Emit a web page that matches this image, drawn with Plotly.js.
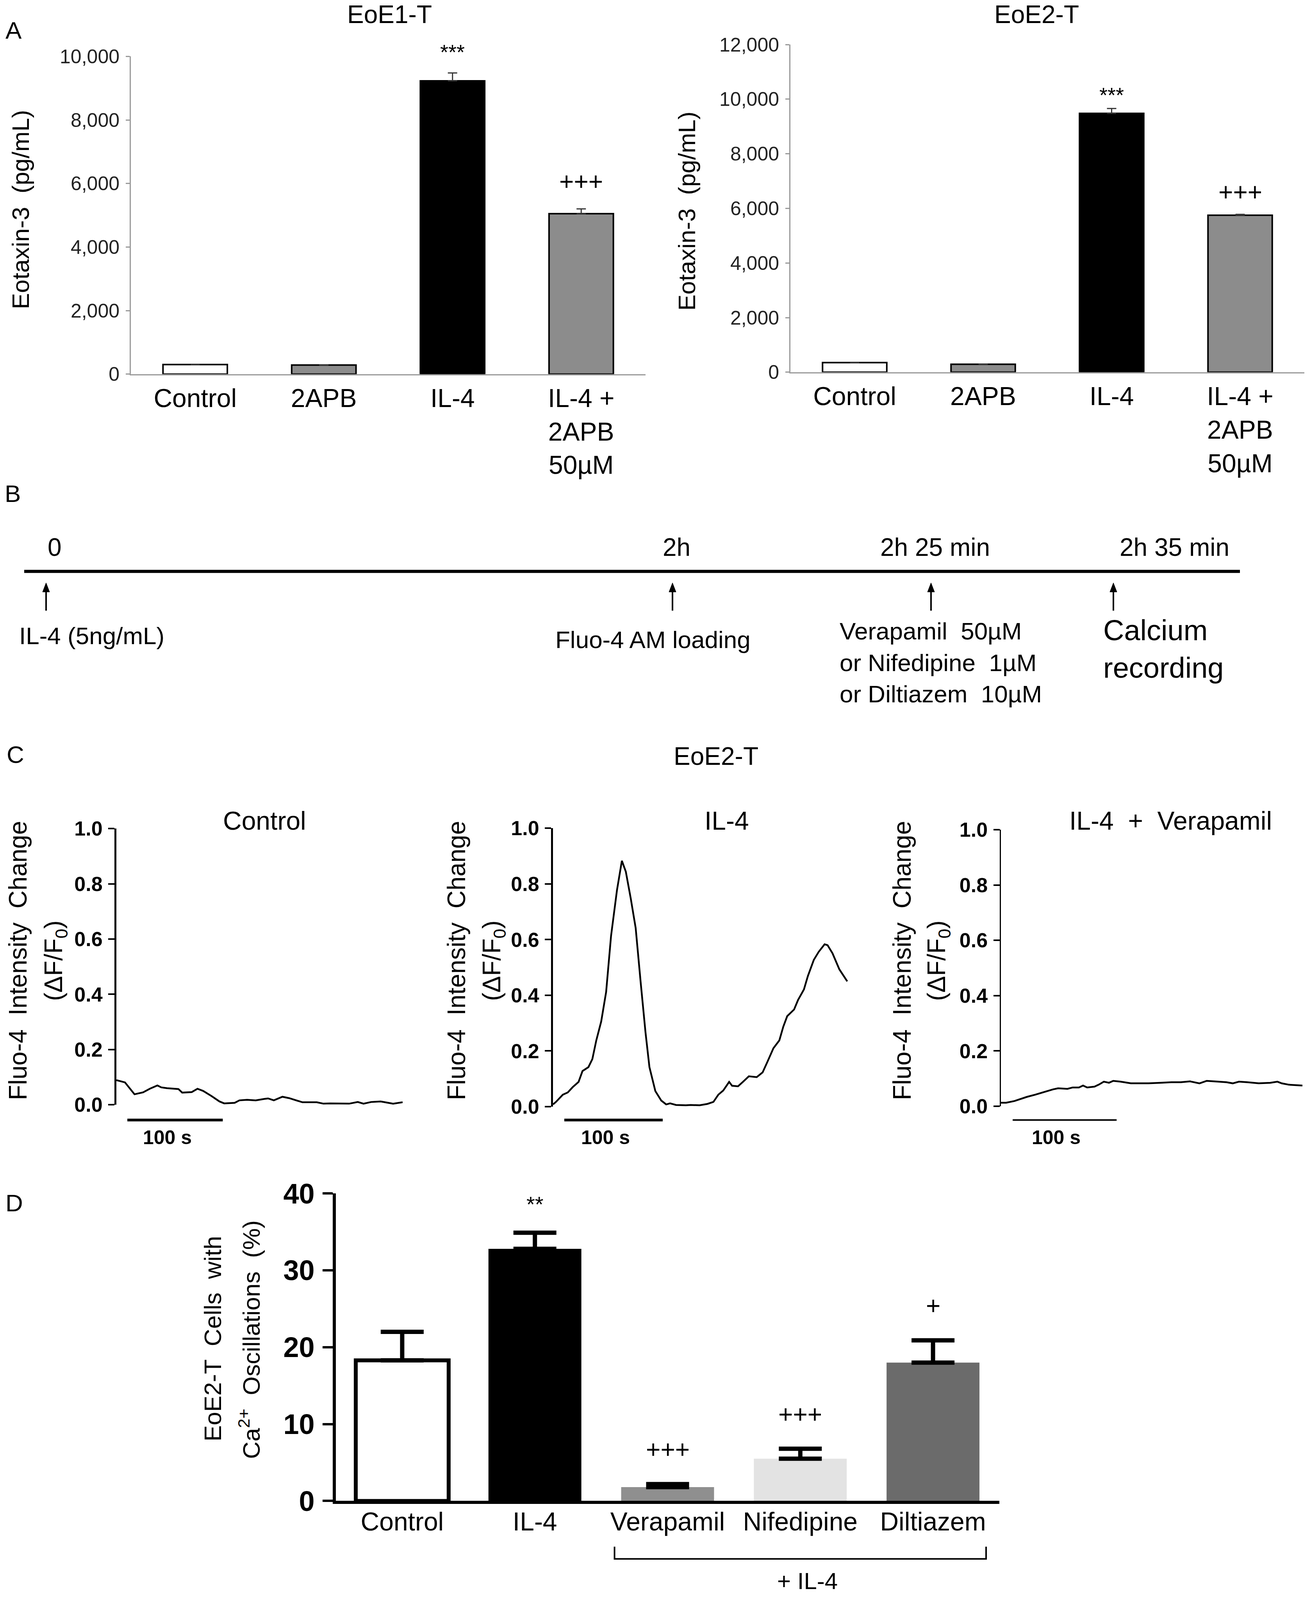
<!DOCTYPE html>
<html><head><meta charset="utf-8">
<script src="https://cdn.plot.ly/plotly-3.0.1.min.js"></script>
<style>html,body{margin:0;padding:0;background:#fff;overflow:hidden}</style>
</head><body><div id="chart" style="width:3357px;height:4096px"></div>
<script>
// ---------- Panel A data ----------
const categoriesA = ['Control', '2APB', 'IL-4', 'IL-4 +<br>2APB<br>50µM'];
const eoe1Values = [300, 285, 9230, 5050];
const eoe1Errors = [0, 0, 250, 150];
const eoe1Marks = ['', '', '***', '+++'];
const eoe2Values = [350, 290, 9480, 5750];
const eoe2Errors = [0, 0, 180, 30];
const eoe2Marks = ['', '', '***', '+++'];
const barColorsA = ['#ffffff', '#8c8c8c', '#000000', '#8c8c8c'];
const ticksA1 = [0, 2000, 4000, 6000, 8000, 10000];
const ticksA2 = [0, 2000, 4000, 6000, 8000, 10000, 12000];

// ---------- Panel B data ----------
const timelineTimes = ['0', '2h', '2h 25 min', '2h 35 min'];
const timelineEvents = ['IL-4 (5ng/mL)', 'Fluo-4 AM loading',
  'Verapamil  50µM<br>or Nifedipine  1µM<br>or Diltiazem  10µM', 'Calcium<br>recording'];

// ---------- Panel C data (time in s, ΔF/F0) ----------
const controlTime = [0,9,19,28,35,43,47,53,65,69,79,85,91,100,108,113,124,129,137,146,155,159,165,174,181,188,195,210,217,224,233,244,253,259,267,277,285,290,300];
const controlSignal = [0.089,0.081,0.038,0.045,0.058,0.070,0.063,0.060,0.057,0.044,0.046,0.058,0.050,0.031,0.012,0.005,0.007,0.016,0.018,0.016,0.021,0.023,0.016,0.029,0.024,0.016,0.009,0.009,0.004,0.005,0.004,0.004,0.010,0.004,0.010,0.012,0.007,0.004,0.009];
const il4Time = [0,3,10,15,20,26,30,36,40,44,49,54,59,65,70,74,79,84,89,94,98,104,110,115,119,125,135,140,149,157,163,168,173,179,182,188,193,199,207,213,218,224,230,234,238,245,249,255,259,265,270,276,279,284,291,299];
const il4Signal = [0.008,0.017,0.043,0.051,0.070,0.089,0.128,0.142,0.171,0.238,0.306,0.412,0.613,0.777,0.883,0.844,0.748,0.642,0.450,0.267,0.142,0.056,0.022,0.008,0.012,0.006,0.005,0.006,0.005,0.010,0.017,0.043,0.058,0.089,0.075,0.073,0.089,0.109,0.106,0.123,0.162,0.210,0.238,0.287,0.325,0.349,0.383,0.421,0.469,0.527,0.556,0.583,0.580,0.551,0.493,0.450];
const verapamilTime = [0,5,13,25,33,41,50,55,64,69,75,79,83,90,94,99,104,108,115,125,134,142,153,164,173,182,191,198,209,217,223,229,237,248,259,266,270,277,290];
const verapamilSignal = [0.013,0.013,0.019,0.034,0.042,0.051,0.061,0.065,0.063,0.068,0.068,0.075,0.068,0.071,0.078,0.089,0.085,0.092,0.089,0.083,0.083,0.083,0.085,0.087,0.087,0.090,0.083,0.092,0.089,0.087,0.083,0.089,0.087,0.083,0.085,0.089,0.083,0.078,0.075];
const traceTitles = ['Control', 'IL-4', 'IL-4  +  Verapamil'];
const scaleBarStart = [11.5, 11.5, 11.3];   // s
const scaleBarLength = 100;                  // s
const ticksC = [0, 0.2, 0.4, 0.6, 0.8, 1.0];

// ---------- Panel D data ----------
const categoriesD = ['Control', 'IL-4', 'Verapamil', 'Nifedipine', 'Diltiazem'];
const oscValues = [18.3, 32.8, 1.8, 5.5, 18.0];
const oscErrors = [3.7, 2.1, 0.4, 1.3, 2.9];
const oscMarks = ['', '**', '+++', '+++', '+'];
const barColorsD = ['#ffffff', '#000000', '#8f8f8f', '#e3e3e3', '#6b6b6b'];
const ticksD = [0, 10, 20, 30, 40];
const treatmentGroupLabel = '+ IL-4';

// ---------- helpers ----------
// positions are expressed in the reference's 3357x4200 frame and mapped to paper fractions;
// the page itself is made a little shorter so that all of it fits in the visible window.
const W = 3357, REF_H = 4200, PAGE_H = 4096;
const fx = px => px / W;
const fy = py => 1 - py / REF_H;
const FONT = 'Liberation Sans, Arial, sans-serif';
const txt = (size, extra) => Object.assign({family: FONT, size: size, color: '#000'}, extra || {});
const label = (x, y, text, size, extra) => Object.assign({xref: 'paper', yref: 'paper', x: fx(x), y: fy(y),
  text: text, showarrow: false, xanchor: 'center', yanchor: 'middle', font: txt(size)}, extra || {});

const traces = [];
const annotations = [];
const shapes = [];

// ---------- Panel A traces ----------
function panelA(xa, ya, vals, errs) {
  traces.push({
    type: 'bar', x: categoriesA, y: vals, xaxis: xa, yaxis: ya, width: 0.5,
    marker: {color: barColorsA, line: {color: '#000', width: 4}},
    error_y: {type: 'data', array: errs, arrayminus: errs.map(() => 0), symmetric: false,
              color: '#333', thickness: 3, width: 12},
    showlegend: false, hoverinfo: 'skip'
  });
}
panelA('x', 'y', eoe1Values, eoe1Errors);
panelA('x2', 'y2', eoe2Values, eoe2Errors);

function marksA(xr, yr, vals, errs, marks, starShift, plusShift) {
  marks.forEach((m, i) => {
    if (!m) return;
    const star = m.indexOf('*') >= 0;
    annotations.push({xref: xr, yref: yr, x: categoriesA[i], y: vals[i] + errs[i], text: m,
      showarrow: false, xanchor: 'center', yanchor: 'middle', yshift: star ? starShift : plusShift,
      font: txt(star ? 54 : 64)});
  });
}
marksA('x', 'y', eoe1Values, eoe1Errors, eoe1Marks, 54, 70);
marksA('x2', 'y2', eoe2Values, eoe2Errors, eoe2Marks, 35, 57);

const axA_x = dom => ({domain: dom, showline: true, linecolor: '#999', linewidth: 3, ticks: '',
  showgrid: false, zeroline: false, tickfont: txt(66), ticklabelstandoff: 2, range: [-0.5, 3.5], fixedrange: true});
const axA_y = (dom, rng, tv) => ({domain: dom, range: rng, tickvals: tv, tickformat: ',d', showline: true,
  linecolor: '#999', linewidth: 3, ticks: 'outside', ticklen: 10, tickcolor: '#999', tickwidth: 3,
  showgrid: false, zeroline: false, tickfont: txt(50, {color: '#222'}), ticklabelstandoff: 6});

// ---------- Panel C traces ----------
const cSeries = [[controlTime, controlSignal], [il4Time, il4Signal], [verapamilTime, verapamilSignal]];
cSeries.forEach((s, i) => {
  traces.push({type: 'scatter', mode: 'lines', x: s[0], y: s[1], xaxis: 'x' + (i + 3), yaxis: 'y' + (i + 3),
    line: {color: '#000', width: 4.5}, showlegend: false, hoverinfo: 'skip'});
});

// ---------- Panel D traces ----------
traces.push({
  type: 'bar', x: categoriesD, y: oscValues, xaxis: 'x6', yaxis: 'y6', width: 0.7,
  marker: {color: barColorsD, line: {color: '#000', width: [10, 0, 0, 0, 0]}},
  error_y: {type: 'data', array: oscErrors, arrayminus: oscErrors.map(() => 0), symmetric: false,
            color: '#000', thickness: 11, width: 55},
  showlegend: false, hoverinfo: 'skip'
});
oscMarks.forEach((m, i) => {
  if (!m) return;
  const star = m.indexOf('*') >= 0;
  annotations.push({xref: 'x6', yref: 'y6', x: categoriesD[i], y: oscValues[i] + oscErrors[i], text: m,
    showarrow: false, xanchor: 'center', yanchor: 'middle', yshift: star ? 73 : 88, font: txt(star ? 56 : 64)});
});

// ---------- panel letters ----------
[['A', 35, 79], ['B', 32, 1296], ['C', 39, 1981], ['D', 36, 3158]].forEach(l => {
  annotations.push(label(l[1], l[2], l[0], 62));
});

// ---------- Panel A titles ----------
annotations.push(label(997, 38, 'EoE1-T', 64));
annotations.push(label(2654, 38, 'EoE2-T', 64));
annotations.push(label(52, 550, 'Eotaxin-3  (pg/mL)', 62, {textangle: -90}));
annotations.push(label(1758, 554, 'Eotaxin-3  (pg/mL)', 62, {textangle: -90}));

// ---------- Panel B: timeline ----------
shapes.push({type: 'line', xref: 'paper', yref: 'paper', x0: fx(62), x1: fx(3175), y0: fy(1500), y1: fy(1500),
  line: {color: '#000', width: 8}});
const timeX = [140, 1732, 2394, 3007];
const arrowX = [118, 1722, 2384, 2851];
timelineTimes.forEach((t, i) => {
  annotations.push(label(timeX[i], 1437, t, 64));
  const ax = arrowX[i];
  shapes.push({type: 'line', xref: 'paper', yref: 'paper', x0: fx(ax), x1: fx(ax), y0: fy(1603), y1: fy(1548),
    line: {color: '#000', width: 4}});
  shapes.push({type: 'path', xref: 'paper', yref: 'paper',
    path: `M ${fx(ax - 9)},${fy(1554)} L ${fx(ax)},${fy(1530)} L ${fx(ax + 9)},${fy(1554)} Z`,
    fillcolor: '#000', line: {color: '#000', width: 1}});
});
const eventX = [47, 1420, 2148, 2823];
const eventY = [1669, 1679, 1739, 1704];
timelineEvents.forEach((e, i) => {
  annotations.push(label(eventX[i], eventY[i], e, i === 3 ? 74 : 62, {xanchor: 'left', align: 'left'}));
});

// ---------- Panel C annotations / shapes ----------
annotations.push(label(1833, 1985, 'EoE2-T', 64));
const cTitleX = [677, 1861, 2997];
const cYTitleX = [[46, 141], [1169, 1263], [2310, 2402]];
traceTitles.forEach((t, i) => {
  annotations.push(label(cTitleX[i], 2154, t, 66));
  annotations.push(label(cYTitleX[i][0], 2522, 'Fluo-4  Intensity  Change', 64, {textangle: -90}));
  annotations.push(label(cYTitleX[i][1], 2522, '(ΔF/F<sub>0</sub>)', 64, {textangle: -90}));
  const xr = 'x' + (i + 3);
  shapes.push({type: 'line', xref: xr, yref: 'paper', x0: scaleBarStart[i], x1: scaleBarStart[i] + scaleBarLength,
    y0: fy(2940), y1: fy(2940), line: {color: '#000', width: i === 2 ? 4 : 7}});
  annotations.push({xref: xr, yref: 'paper', x: scaleBarStart[i] + scaleBarLength / 2 - 8, y: fy(2986), text: '100 s',
    showarrow: false, xanchor: 'center', yanchor: 'middle', font: txt(50, {weight: 'bold'})});
});

// ---------- Panel D annotations / shapes ----------
annotations.push(label(545, 3514, 'EoE2-T  Cells  with', 62, {textangle: -90}));
annotations.push(label(639, 3517, 'Ca<sup>2+</sup>  Oscillations  (%)', 62, {textangle: -90}));
shapes.push({type: 'path', xref: 'x6', yref: 'paper',
  path: `M 1.6,${fy(4060)} L 1.6,${fy(4092)} L 4.4,${fy(4092)} L 4.4,${fy(4060)}`,
  line: {color: '#000', width: 4}});
annotations.push(label(2067, 4150, treatmentGroupLabel, 60));

// ---------- Layout ----------
const cAxisY = (dom, lw) => ({domain: dom, range: [0, 1], tickvals: ticksC, tickformat: '.1f', showline: true,
  linecolor: '#000', linewidth: lw, ticks: 'outside', ticklen: 16, tickwidth: 4, tickcolor: '#000',
  showgrid: false, zeroline: false, tickfont: txt(52, {weight: 'bold'}), ticklabelstandoff: 4});
const cAxisX = (dom, rng) => ({domain: dom, range: rng, visible: false, showgrid: false, zeroline: false});

const layout = {
  width: W, height: PAGE_H, margin: {l: 0, r: 0, t: 0, b: 0}, paper_bgcolor: '#fff', plot_bgcolor: 'rgba(0,0,0,0)',
  font: {family: FONT, color: '#000'}, showlegend: false, bargap: 0,
  xaxis: Object.assign(axA_x([fx(335), fx(1653)]), {anchor: 'y'}),
  yaxis: Object.assign(axA_y([fy(982), fy(148)], [0, 10000], ticksA1), {anchor: 'x'}),
  xaxis2: Object.assign(axA_x([fx(2024), fx(3340)]), {anchor: 'y2'}),
  yaxis2: Object.assign(axA_y([fy(977), fy(117)], [0, 12000], ticksA2), {anchor: 'x2'}),
  xaxis3: Object.assign(cAxisX([fx(298), fx(1031)], [0, 300]), {anchor: 'y3'}),
  yaxis3: Object.assign(cAxisY([fy(2900), fy(2175)], 5), {anchor: 'x3'}),
  xaxis4: Object.assign(cAxisX([fx(1416), fx(2172)], [0, 300]), {anchor: 'y4'}),
  yaxis4: Object.assign(cAxisY([fy(2905), fy(2174)], 5), {anchor: 'x4'}),
  xaxis5: Object.assign(cAxisX([fx(2563), fx(3335)], [0, 290]), {anchor: 'y5'}),
  yaxis5: Object.assign(cAxisY([fy(2904), fy(2178)], 3.5), {anchor: 'x5'}),
  xaxis6: {domain: [fx(860), fx(2559)], anchor: 'y6', range: [-0.5, 4.5], showline: true, linecolor: '#000',
    linewidth: 8, ticks: '', showgrid: false, zeroline: false, tickfont: txt(66), ticklabelstandoff: -12},
  yaxis6: {domain: [fy(3940), fy(3133)], anchor: 'x6', range: [0, 40], tickvals: ticksD, showline: true,
    linecolor: '#000', linewidth: 8, ticks: 'outside', ticklen: 26, tickwidth: 6, tickcolor: '#000',
    showgrid: false, zeroline: false, tickfont: txt(72, {weight: 'bold'}), ticklabelstandoff: 6},
  annotations: annotations,
  shapes: shapes
};

Plotly.newPlot('chart', traces, layout, {staticPlot: true, displayModeBar: false});
</script>
</body></html>
